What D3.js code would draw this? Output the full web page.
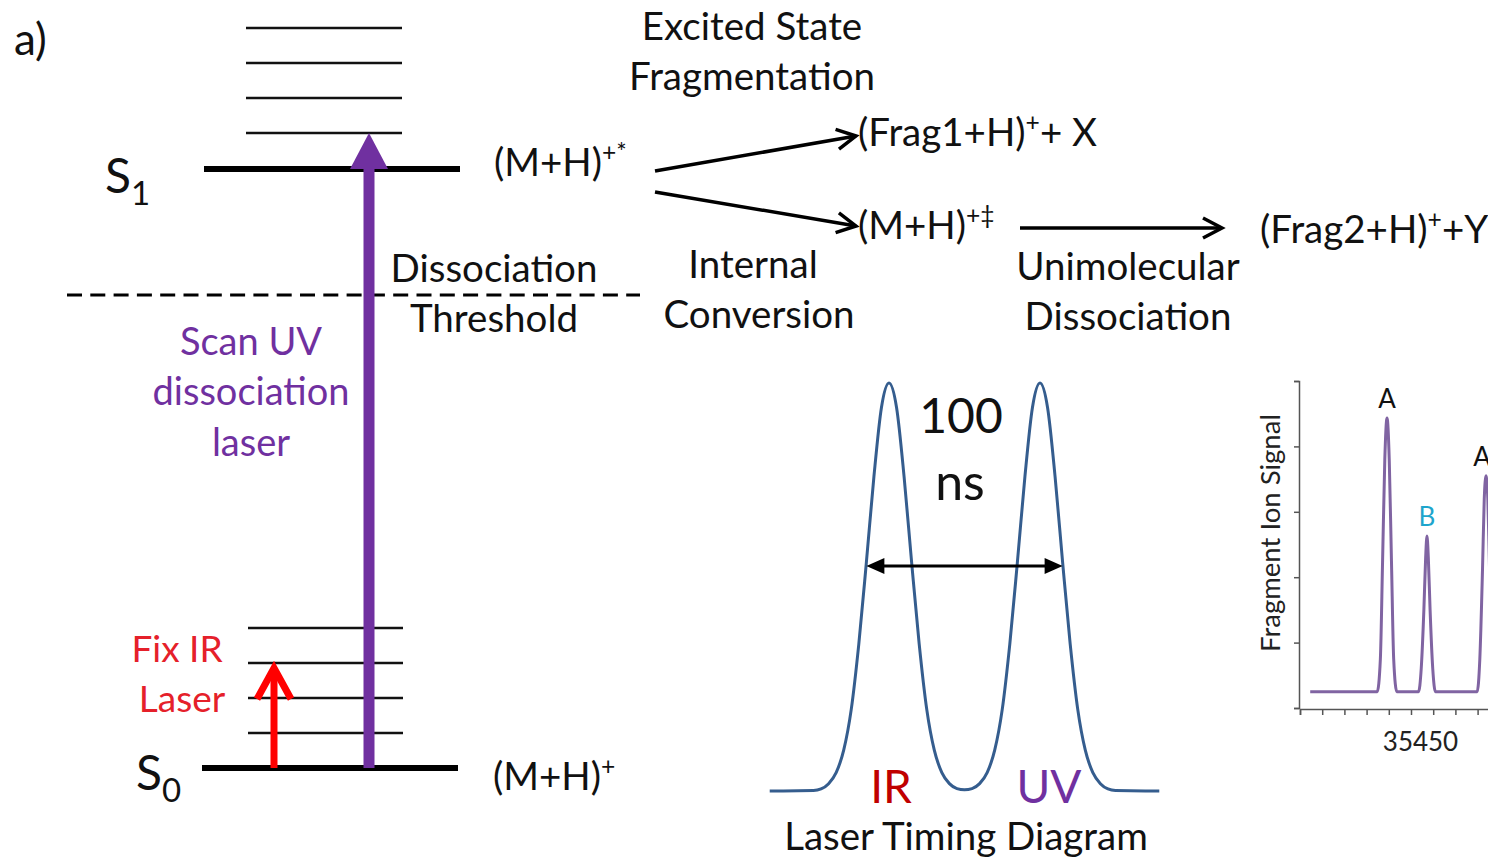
<!DOCTYPE html>
<html><head><meta charset="utf-8">
<script src="https://cdn.jsdelivr.net/npm/d3@7"></script>
<style>
body{margin:0;background:#fff}
svg{display:block}
text{font-family:Lato,"Open Sans",sans-serif}
</style>
</head><body>
<svg id="c" width="1488" height="859"></svg>
<script>
// ---------------- DATA ----------------
// Energy level diagram (arbitrary energy units)
const stateEnergies = [0, 17.11];            // S0, S1
const stateLabels = ["S", "S"];
const stateSubscripts = ["0", "1"];
const groundVibLevels = [1, 2, 3, 4];
const excitedVibLevels = [18.14, 19.14, 20.14, 21.14];
const dissociationThreshold = 13.51;
const irExcitation = [0, 3];
const uvExcitation = [0, 18.14];

// Laser timing diagram: time (ns, IR peak at 0, UV peak at 100) and intensity
const timingTime = [-79, -50, -45, -40, -35, -30, -25, -20, -15, -10, -5, 0, 5, 10, 15, 20, 25, 30, 35, 40, 45, 50,
  55, 60, 65, 70, 75, 80, 85, 90, 95, 100, 105, 110, 115, 120, 125, 130, 135, 140, 145, 150, 179];
const timingIntensity = [0, 0.001, 0.005, 0.018, 0.045, 0.1, 0.2, 0.36, 0.56, 0.77, 0.94, 1, 0.94, 0.77, 0.56, 0.36, 0.2, 0.1, 0.045, 0.018, 0.006, 0.003,
  0.006, 0.018, 0.045, 0.1, 0.2, 0.36, 0.56, 0.77, 0.94, 1, 0.94, 0.77, 0.56, 0.36, 0.2, 0.1, 0.045, 0.018, 0.005, 0.001, 0];
const timingArrow = [-15, 115];

// Inset spectrum
const spectrumWavenumber = [35427.3, 35442.4, 35443.1, 35443.6, 35444.1, 35444.6, 35445.1, 35445.6, 35446.1, 35446.8,
  35451.7, 35452.3, 35452.9, 35453.3, 35453.6, 35453.9, 35454.3, 35454.9, 35455.5,
  35464.9, 35465.5, 35466.1, 35466.5, 35466.9, 35467.3, 35467.7, 35468.3, 35468.9, 35480];
const spectrumSignal = [0.05, 0.05, 0.15, 0.45, 0.76, 0.887, 0.76, 0.45, 0.15, 0.05,
  0.05, 0.12, 0.3, 0.46, 0.526, 0.46, 0.3, 0.12, 0.05,
  0.05, 0.15, 0.42, 0.64, 0.71, 0.64, 0.42, 0.15, 0.05, 0.05];
const peakLabels = ["A", "B", "A"];
const peakPositions = [35444.6, 35453.6, 35466.9];
const peakHeights = [0.887, 0.526, 0.71];
const peakColors = ["#111", "#1ea5cc", "#111"];
const spectrumXTicks = [35425, 35430, 35435, 35440, 35445, 35450, 35455, 35460, 35465, 35470, 35475];
const spectrumXTickLabels = ["", "", "", "", "", "35450", "", "", "", "", ""];
const spectrumYTicks = [0, 0.2, 0.4, 0.6, 0.8, 1.0];

// ---------------- DRAWING ----------------
const svg = d3.select("#c");
svg.append("rect").attr("width", 1488).attr("height", 859).attr("fill", "#fff");

const PURPLE = "#7030a0", RED = "#ff0000";
const yE = d3.scaleLinear().domain([0, 21.14]).range([768, 28]);

function txt(x, y, s, size, opts = {}) {
  return svg.append("text").attr("x", x).attr("y", y).attr("font-size", size)
    .attr("fill", opts.fill || "#111").attr("text-anchor", opts.anchor || "start").text(s);
}
// formula with superscripts: segments [[text, isSup], ...]
function formula(x, y, segs, size) {
  const t = svg.append("text").attr("x", x).attr("y", y).attr("font-size", size).attr("fill", "#111");
  let raised = false;
  segs.forEach(([s, sup]) => {
    const ts = t.append("tspan").text(s);
    if (sup && !raised) { ts.attr("dy", -15).attr("font-size", size * 0.64); raised = true; }
    else if (sup) { ts.attr("font-size", size * 0.64); }
    else if (!sup && raised) { ts.attr("dy", 15); raised = false; }
  });
  return t;
}

// label a)
txt(14, 55, "a)", 44);

// vibrational levels
svg.selectAll(".exv").data(excitedVibLevels).enter().append("line")
  .attr("x1", 246).attr("x2", 402).attr("y1", d => yE(d)).attr("y2", d => yE(d))
  .attr("stroke", "#111").attr("stroke-width", 2.4);
svg.selectAll(".gv").data(groundVibLevels).enter().append("line")
  .attr("x1", 248).attr("x2", 403).attr("y1", d => yE(d)).attr("y2", d => yE(d))
  .attr("stroke", "#111").attr("stroke-width", 2.4);

// electronic states
svg.selectAll(".st").data(stateEnergies).enter().append("line")
  .attr("x1", (d, i) => i ? 204 : 202).attr("x2", (d, i) => i ? 460 : 458)
  .attr("y1", d => yE(d)).attr("y2", d => yE(d))
  .attr("stroke", "#000").attr("stroke-width", 6);

// state labels
const stLabelX = [136, 105];
const stLabelDy = [22, 24];
stateEnergies.forEach((e, i) => {
  const t = svg.append("text").attr("x", stLabelX[i]).attr("y", yE(e) + stLabelDy[i]).attr("font-size", 48).attr("fill", "#111");
  t.append("tspan").text(stateLabels[i]);
  t.append("tspan").attr("font-size", 33).attr("dy", 12).text(stateSubscripts[i]);
});

// dissociation threshold
svg.append("line").attr("x1", 67).attr("x2", 640)
  .attr("y1", yE(dissociationThreshold)).attr("y2", yE(dissociationThreshold))
  .attr("stroke", "#000").attr("stroke-width", 3).attr("stroke-dasharray", "15,8.3");

// UV arrow
const uvX = 369;
svg.append("line").attr("x1", uvX).attr("x2", uvX).attr("y1", yE(uvExcitation[0])).attr("y2", yE(uvExcitation[1]) + 34)
  .attr("stroke", PURPLE).attr("stroke-width", 11);
svg.append("path").attr("fill", PURPLE)
  .attr("d", `M${uvX - 19},${yE(uvExcitation[1]) + 36} L${uvX},${yE(uvExcitation[1])} L${uvX + 19},${yE(uvExcitation[1]) + 36} Z`);

// IR arrow
const irX = 274;
svg.append("line").attr("x1", irX).attr("x2", irX).attr("y1", yE(irExcitation[0])).attr("y2", yE(irExcitation[1]) + 6)
  .attr("stroke", RED).attr("stroke-width", 7);
svg.append("path").attr("fill", "none").attr("stroke", RED).attr("stroke-width", 7).attr("stroke-linejoin", "miter")
  .attr("d", `M${irX - 17},${yE(irExcitation[1]) + 36} L${irX},${yE(irExcitation[1]) + 5} L${irX + 17},${yE(irExcitation[1]) + 36}`);

// laser labels
txt(251, 355, "Scan UV", 38, {fill: PURPLE, anchor: "middle"});
txt(251, 405, "dissociation", 38, {fill: PURPLE, anchor: "middle"});
txt(251, 456, "laser", 38, {fill: PURPLE, anchor: "middle"});
txt(177, 662, "Fix IR", 37, {fill: "#e5202a", anchor: "middle"});
txt(182, 712, "Laser", 37, {fill: "#e5202a", anchor: "middle"});

// threshold label
txt(494, 282, "Dissociation", 38.5, {anchor: "middle"});
txt(494, 332, "Threshold", 38.5, {anchor: "middle"});

// top text
txt(752, 40, "Excited State", 38.5, {anchor: "middle"});
txt(752, 90, "Fragmentation", 38.5, {anchor: "middle"});

// formulas
formula(494, 176, [["(M+H)", false], ["+*", true]], 38.5);
formula(493, 790, [["(M+H)", false], ["+", true]], 38.5);
formula(858, 146, [["(Frag1+H)", false], ["+", true], ["+ X", false]], 38.5);
formula(858, 239, [["(M+H)", false], ["+‡", true]], 38.5);
formula(1260, 243, [["(Frag2+H)", false], ["+", true], ["+Y", false]], 38.5);

// reaction arrows (open heads)
function openArrow(x1, y1, x2, y2) {
  svg.append("line").attr("x1", x1).attr("y1", y1).attr("x2", x2).attr("y2", y2)
    .attr("stroke", "#000").attr("stroke-width", 3.5);
  const a = Math.atan2(y2 - y1, x2 - x1), L = 19, W = 10;
  const bx = x2 - L * Math.cos(a), by = y2 - L * Math.sin(a);
  const px = -Math.sin(a) * W, py = Math.cos(a) * W;
  svg.append("path").attr("fill", "none").attr("stroke", "#000").attr("stroke-width", 3.5)
    .attr("stroke-linejoin", "miter")
    .attr("d", `M${bx + px},${by + py} L${x2},${y2} L${bx - px},${by - py}`);
}
openArrow(655, 171, 856, 136);
openArrow(655, 192, 856, 226);
openArrow(1020, 228, 1222, 228);

txt(753, 278, "Internal", 38.5, {anchor: "middle"});
txt(759, 328, "Conversion", 38.5, {anchor: "middle"});
txt(1128, 280, "Unimolecular", 38.5, {anchor: "middle"});
txt(1128, 330, "Dissociation", 38.5, {anchor: "middle"});

// ---------------- Laser timing diagram ----------------
const tx = d3.scaleLinear().domain([0, 100]).range([889, 1040]);
const ty = d3.scaleLinear().domain([0, 1]).range([791, 383]);
const timingPts = timingTime.map((t, i) => [t, timingIntensity[i]]);
svg.append("path").datum(timingPts)
  .attr("fill", "none").attr("stroke", "#355d8e").attr("stroke-width", 3)
  .attr("d", d3.line().x(d => tx(d[0])).y(d => ty(d[1])).curve(d3.curveMonotoneX));

// double arrow
const ay = 566;
const ax1 = tx(timingArrow[0]), ax2 = tx(timingArrow[1]);
svg.append("line").attr("x1", ax1 + 10).attr("x2", ax2 - 10).attr("y1", ay).attr("y2", ay)
  .attr("stroke", "#000").attr("stroke-width", 3);
svg.append("path").attr("fill", "#000").attr("d", `M${ax1},${ay} L${ax1 + 18},${ay - 8} L${ax1 + 18},${ay + 8} Z`);
svg.append("path").attr("fill", "#000").attr("d", `M${ax2},${ay} L${ax2 - 18},${ay - 8} L${ax2 - 18},${ay + 8} Z`);

txt(961, 433, "100", 48, {anchor: "middle"});
txt(960, 500, "ns", 50, {anchor: "middle"});
txt(891, 803, "IR", 46, {fill: "#c00000", anchor: "middle"});
txt(1049, 803, "UV", 46, {fill: PURPLE, anchor: "middle"});
txt(966, 850, "Laser Timing Diagram", 38.5, {anchor: "middle"});

// ---------------- Inset spectrum ----------------
const sx = d3.scaleLinear().domain([35425, 35475]).range([1300, 1522]);
const sy = d3.scaleLinear().domain([0, 1]).range([708, 381]);
const ins = svg.append("g");
const yAx = ins.append("g").attr("transform", "translate(1299,0)")
  .call(d3.axisLeft(sy).tickValues(spectrumYTicks).tickFormat("").tickSize(5).tickSizeOuter(5));
const xAx = ins.append("g").attr("transform", "translate(0,709)")
  .call(d3.axisBottom(sx).tickValues(spectrumXTicks).tickFormat((d, i) => spectrumXTickLabels[i]).tickSize(6).tickSizeOuter(6));
[yAx, xAx].forEach(g => { g.selectAll("path,line").attr("stroke", "#555").attr("stroke-width", 1.5); });
xAx.selectAll("text").attr("y", 42).attr("dy", 0).attr("dx", 9)
  .attr("font-size", 26).attr("fill", "#222").attr("font-family", "Lato");

const specPts = spectrumWavenumber.map((w, i) => [w, spectrumSignal[i]]);
ins.append("path").datum(specPts).attr("fill", "none").attr("stroke", "#8064a2").attr("stroke-width", 3)
  .attr("d", d3.line().x(d => sx(d[0])).y(d => sy(d[1])).curve(d3.curveMonotoneX));

peakLabels.forEach((l, i) => {
  ins.append("text").attr("x", sx(peakPositions[i]) - (i === 2 ? 4 : 0)).attr("y", sy(peakHeights[i]) - 10)
    .attr("text-anchor", "middle").attr("font-size", 26).attr("fill", peakColors[i]).text(l);
});

ins.append("text").attr("transform", "translate(1280,533) rotate(-90)")
  .attr("text-anchor", "middle").attr("font-size", 27.5).attr("fill", "#222").text("Fragment Ion Signal");
</script>
</body></html>
